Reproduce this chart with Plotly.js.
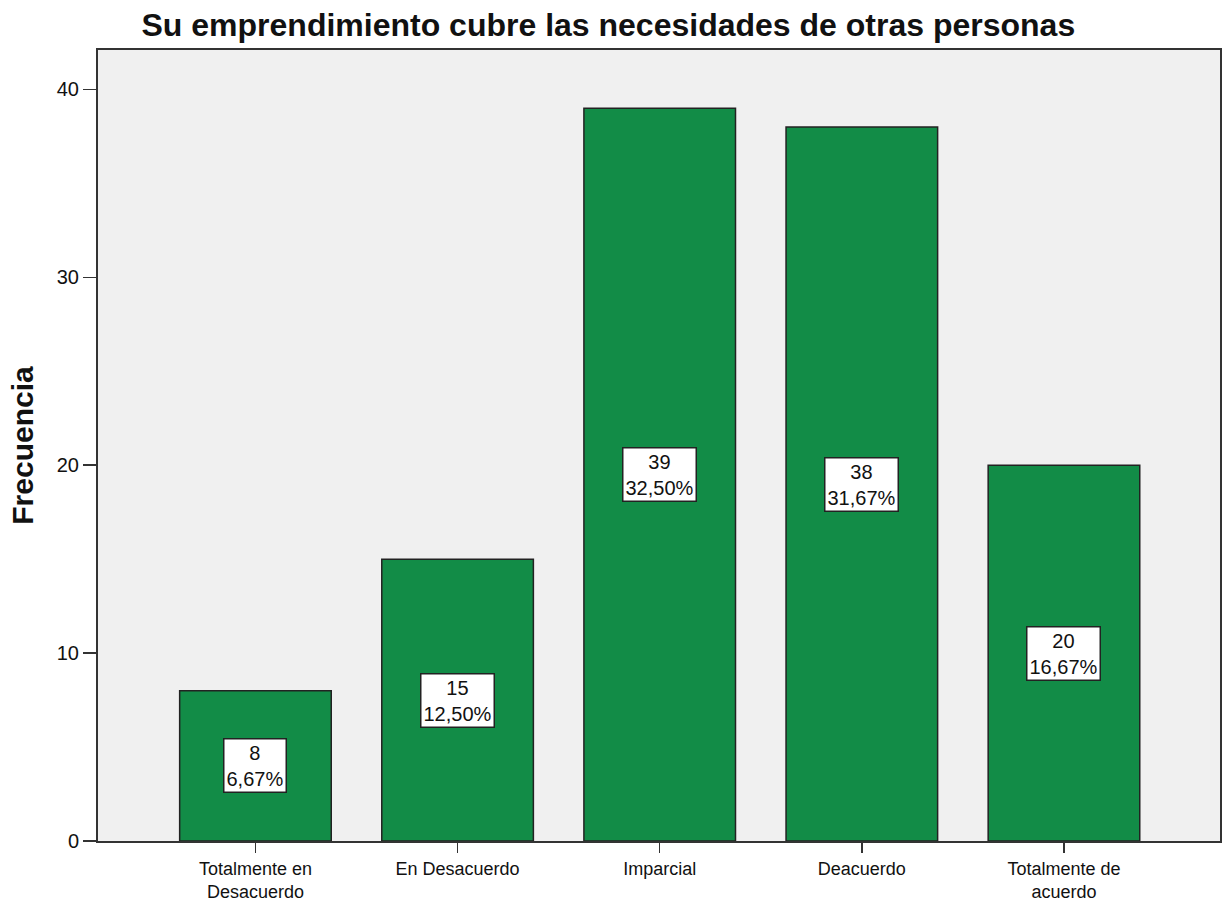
<!DOCTYPE html>
<html>
<head>
<meta charset="utf-8">
<script src="https://cdn.plot.ly/plotly-3.0.1.min.js"></script>
<style>html,body{margin:0;padding:0;background:#fff;}#chart{width:1229px;height:901px;}</style>
</head>
<body>
<div id="chart"></div>
<script>
const categories = ["Totalmente en<br>Desacuerdo", "En Desacuerdo", "Imparcial", "Deacuerdo", "Totalmente de<br>acuerdo"];
const counts = [8, 15, 39, 38, 20];
const percents = ["6,67%", "12,50%", "32,50%", "31,67%", "16,67%"];
const yTicks = [0, 10, 20, 30, 40];

const FONT = "Liberation Sans, Arial, sans-serif";

const trace = {
  type: "bar",
  x: categories,
  y: counts,
  width: 0.75,
  marker: {color: "#128C47", line: {color: "#222222", width: 1.5}},
  hoverinfo: "skip"
};

const annotations = categories.map((c, i) => ({
  x: c, y: counts[i] / 2, xref: "x", yref: "y",
  text: counts[i] + "<br>" + percents[i],
  showarrow: false,
  bgcolor: "#ffffff",
  bordercolor: "#222222",
  borderwidth: 1.5,
  borderpad: 2,
  font: {family: FONT, size: 20, color: "#111"}
}));

const layout = {
  width: 1229, height: 901,
  margin: {l: 98, r: 9, t: 50, b: 60},
  paper_bgcolor: "#ffffff",
  plot_bgcolor: "#f0f0f0",
  showlegend: false,
  title: {
    text: "<b>Su emprendimiento cubre las necesidades de otras personas</b>",
    font: {family: FONT, size: 32, color: "#111"},
    x: 0.495, xanchor: "center", y: 0.972, yanchor: "middle"
  },
  xaxis: {
    range: [-0.779, 4.772],
    showline: true, linecolor: "#333", linewidth: 2, mirror: true,
    ticks: "outside", ticklen: 10, tickwidth: 1.5, tickcolor: "#333",
    tickfont: {family: FONT, size: 18, color: "#111"},
    showgrid: false, zeroline: false, fixedrange: true
  },
  yaxis: {
    range: [0, 42.1],
    tickvals: yTicks, ticktext: yTicks.map(String),
    showline: true, linecolor: "#333", linewidth: 2, mirror: true,
    ticks: "outside", ticklen: 13, tickwidth: 1.5, tickcolor: "#333",
    tickfont: {family: FONT, size: 20, color: "#111"},
    showgrid: false, zeroline: false, fixedrange: true,
    title: {text: "<b>Frecuencia</b>", font: {family: FONT, size: 30, color: "#111"}, standoff: 14}
  },
  annotations: annotations
};

Plotly.newPlot("chart", [trace], layout, {displayModeBar: false, staticPlot: true});
</script>
</body>
</html>
